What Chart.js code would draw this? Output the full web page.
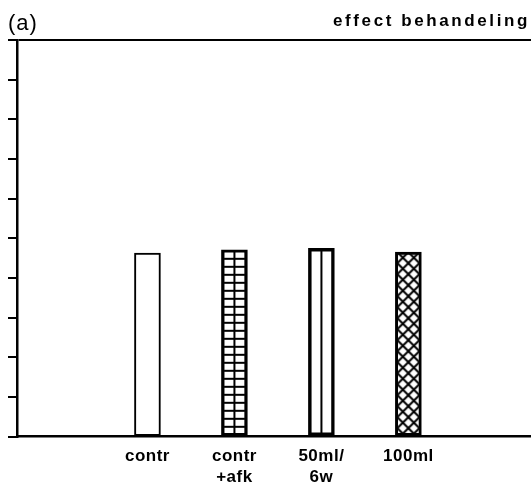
<!DOCTYPE html>
<html>
<head>
<meta charset="utf-8">
<script src="https://cdn.jsdelivr.net/npm/chart.js@4/dist/chart.umd.min.js"></script>
<style>
  body { margin: 0; background: white; }
  #wrap { position: relative; width: 531px; height: 484px; }
  .lbl { position: absolute; font-family: "Liberation Sans", Arial, sans-serif; color: black; white-space: nowrap; }
  #panel { left: 8px; top: 12px; font-size: 22px; line-height: 22px; letter-spacing: 1px; }
  #what { right: 1px; top: 12px; font-size: 17px; line-height: 17px; font-weight: bold; letter-spacing: 2.6px; }
</style>
</head>
<body>
<div id="wrap">
  <canvas id="myChart" width="531" height="484"></canvas>
  <div class="lbl" id="panel">(a)</div>
  <div class="lbl" id="what">effect behandeling</div>
</div>
<script>
// treatments along the x axis
const categories = ['contr', ['contr', '+afk'], ['50ml/', '6w'], '100ml'];
// bar heights, axis runs 0..10 without numbers
const values = [4.63, 4.71, 4.75, 4.65];
const yMin = 0;
const yMax = 10;

// fill patterns, tiles are drawn on small canvases
function tile(w, h, drawFn) {
  let c = document.createElement('canvas');
  c.width = w;
  c.height = h;
  let g = c.getContext('2d');
  g.fillStyle = 'white';
  g.fillRect(0, 0, w, h);
  g.fillStyle = 'black';
  g.strokeStyle = 'black';
  drawFn(g, w, h);
  return c.getContext('2d').createPattern(c, 'repeat');
}

const ctx0 = document.getElementById('myChart').getContext('2d');

const gridPattern = tile(11, 8, function (g, w, h) {
  g.fillRect(1, 0, 2, h);
  g.fillRect(0, 0, w, 2);
});

const stripePattern = tile(26, 4, function (g, w, h) {
  g.fillRect(12, 0, 2, h);
});

const diamondPattern = tile(11, 11, function (g, w, h) {
  g.lineWidth = 2;
  for (let dx = -w; dx <= w; dx += w) {
    for (let dy = -h; dy <= h; dy += h) {
      g.beginPath();
      g.moveTo(dx, dy);
      g.lineTo(dx + w, dy + h);
      g.moveTo(dx + w, dy);
      g.lineTo(dx, dy + h);
      g.stroke();
    }
  }
});

const fills = ['white', gridPattern, stripePattern, diamondPattern];
const fillShift = [0, 0, 0, 2];

// keep the patterns lined up with each bar
const alignPatterns = {
  id: 'alignPatterns',
  beforeDraw(chart) {
    chart.ctx.letterSpacing = '0.5px';
  },
  beforeDatasetsDraw(chart) {
    let meta = chart.getDatasetMeta(0);
    meta.data.forEach(function (el, i) {
      let f = fills[i];
      if (typeof f !== 'string') {
        let left = el.x - el.width / 2 + fillShift[i];
        f.setTransform(new DOMMatrix([1, 0, 0, 1, left, el.y]));
      }
    });
  }
};

const data = {
  datasets: [{
    data: values.map((v, i) => ({ x: i, y: v })),
    backgroundColor: fills,
    borderColor: 'black',
    borderWidth: [2, 3, 3.5, 3],
    borderSkipped: false,
    barThickness: 26
  }]
};

const config = {
  type: 'bar',
  data: data,
  plugins: [alignPatterns],
  options: {
    responsive: false,
    animation: false,
    layout: { padding: { left: 8, top: 40, right: 0, bottom: -13.4 } },
    plugins: {
      legend: { display: false },
      title: { display: false },
      tooltip: { enabled: false }
    },
    scales: {
      x: {
        type: 'linear',
        offset: false,
        min: -1.5,
        max: 4.41,
        grid: { display: false, drawTicks: false },
        border: { display: true, color: 'black', width: 2.5 },
        ticks: {
          stepSize: 1,
          includeBounds: false,
          autoSkip: false,
          maxRotation: 0,
          padding: 10,
          color: 'black',
          font: { family: 'Liberation Sans', size: 17, weight: 'bold' },
          callback: function (value) {
            let i = Math.round(value);
            if (value === i && i >= 0 && i < categories.length) return categories[i];
            return '';
          }
        }
      },
      y: {
        min: yMin,
        max: yMax,
        grid: {
          drawOnChartArea: true,
          color: c => (c.tick && c.tick.value === yMax) ? 'black' : 'rgba(0,0,0,0)',
          lineWidth: 2,
          tickLength: 9,
          tickColor: 'black',
          tickWidth: 2
        },
        border: { display: true, color: 'black', width: 2.5 },
        ticks: { stepSize: 1, display: false }
      }
    }
  }
};

const myChart = new Chart(ctx0, config);
</script>
</body>
</html>
